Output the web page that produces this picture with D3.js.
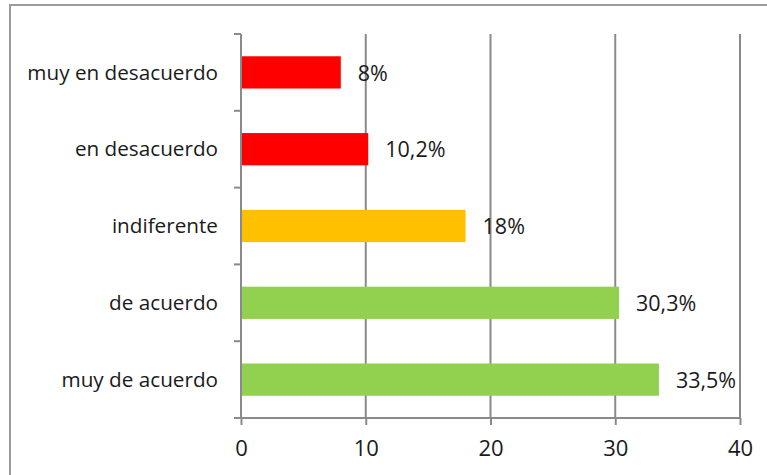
<!DOCTYPE html>
<html>
<head>
<meta charset="utf-8">
<script src="https://cdn.jsdelivr.net/npm/d3@7"></script>
<style>
  html, body { margin: 0; padding: 0; background: #fff; }
  svg { display: block; }
  text { font-family: "Open Sans", sans-serif; fill: #1a1a1a; }
</style>
</head>
<body>
<svg id="chart" width="767" height="475"></svg>
<script>
// ---- data ----
const categories = ["muy en desacuerdo", "en desacuerdo", "indiferente", "de acuerdo", "muy de acuerdo"];
const values = [8, 10.2, 18, 30.3, 33.5];
const valueLabels = ["8%", "10,2%", "18%", "30,3%", "33,5%"];
const barColors = ["#FF0000", "#FF0000", "#FFC000", "#92D050", "#92D050"];
const xTicks = [0, 10, 20, 30, 40];

// ---- layout ----
(function () {
const svg = d3.select("#chart");
const pLeft = 241, pRight = 740, pTop = 34, pBottom = 418;
const axisColor = "#8a8a8a";

// outer frame (cropped at right/bottom)
svg.append("rect")
  .attr("x", 10).attr("y", 5).attr("width", 820).attr("height", 520)
  .attr("fill", "none").attr("stroke", "#9a9a9a").attr("stroke-width", 2);

const x = d3.scaleLinear().domain([0, 40]).range([pLeft, pRight]);
const pInner = 0.58;
const y = d3.scaleBand().domain(categories).range([pTop, pBottom])
  .paddingInner(pInner).paddingOuter(pInner / 2);
const step = y.step();

// gridlines
svg.append("g").selectAll("line")
  .data(xTicks.filter(d => d > 0))
  .join("line")
  .attr("x1", d => x(d)).attr("x2", d => x(d))
  .attr("y1", pTop).attr("y2", pBottom)
  .attr("stroke", axisColor).attr("stroke-width", 2);

// bars
svg.append("g").selectAll("rect")
  .data(categories)
  .join("rect")
  .attr("x", x(0))
  .attr("y", d => y(d))
  .attr("width", (d, i) => x(values[i]) - x(0))
  .attr("height", y.bandwidth())
  .attr("fill", (d, i) => barColors[i]);

// value labels
svg.append("g").selectAll("text")
  .data(categories)
  .join("text")
  .attr("x", (d, i) => x(values[i]) + 17)
  .attr("y", d => y(d) + y.bandwidth() / 2)
  .attr("dy", "0.38em")
  .attr("font-size", 21.5)
  .text((d, i) => valueLabels[i]);

// y axis (ticks at category boundaries)
const yAxis = svg.append("g");
yAxis.append("line")
  .attr("x1", x(0)).attr("x2", x(0)).attr("y1", pTop).attr("y2", pBottom)
  .attr("stroke", axisColor).attr("stroke-width", 2);
const bounds = categories.map(c => y(c) + y.bandwidth() / 2 - step / 2);
bounds.push(y(categories[categories.length - 1]) + y.bandwidth() / 2 + step / 2);
yAxis.selectAll("line.tick").data(bounds).join("line")
  .attr("class", "tick")
  .attr("x1", x(0) - 7).attr("x2", x(0))
  .attr("y1", d => d).attr("y2", d => d)
  .attr("stroke", axisColor).attr("stroke-width", 2);
yAxis.selectAll("text").data(categories).join("text")
  .attr("x", x(0) - 23)
  .attr("y", d => y(d) + y.bandwidth() / 2)
  .attr("dy", "0.35em")
  .attr("text-anchor", "end")
  .attr("font-size", 20.7)
  .text(d => d);

// x axis
const xAxis = svg.append("g")
  .attr("transform", `translate(0,${pBottom})`)
  .call(d3.axisBottom(x).tickValues(xTicks).tickSize(7).tickPadding(15).tickFormat(d3.format("d")));
xAxis.select(".domain").attr("stroke", axisColor).attr("stroke-width", 2)
  .attr("d", `M${x(0)},0H${x(40)}`);
xAxis.selectAll(".tick line").attr("stroke", axisColor).attr("stroke-width", 2);
xAxis.selectAll(".tick text")
  .attr("font-family", "'Open Sans', sans-serif")
  .attr("font-size", 22)
  .attr("fill", "#1a1a1a");
})();
</script>
</body>
</html>
